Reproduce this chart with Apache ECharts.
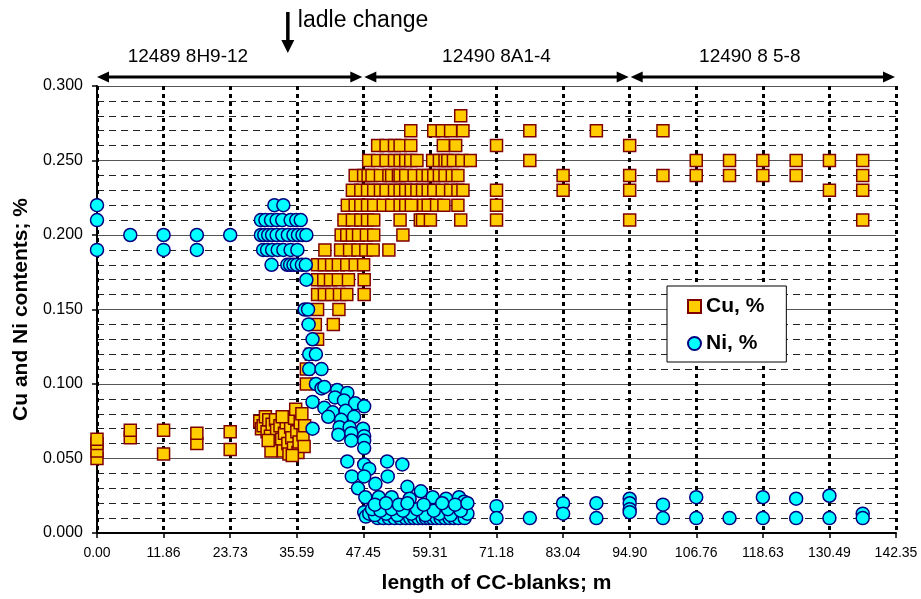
<!DOCTYPE html>
<html>
<head>
<meta charset="utf-8">
<script src="https://cdn.jsdelivr.net/npm/echarts@6/dist/echarts.min.js"></script>
<style>
  html, body { margin: 0; padding: 0; background: #fff; }
  #chart { width: 921px; height: 599px; }
</style>
</head>
<body>
<div id="chart"></div>
<script>
const FONT = '"Liberation Sans", Arial, sans-serif';

// x axis: 12 equal steps of the blank length
const xStep = 11.8625;
const xTickLabels = ["0.00", "11.86", "23.73", "35.59", "47.45", "59.31", "71.18",
  "83.04", "94.90", "106.76", "118.63", "130.49", "142.35"];

// heat sections shown above the plot (start, end in m) and where their names sit
const sectionNames = ["12489 8H9-12", "12490 8A1-4", "12490 8 5-8"];
const sectionBounds = [[0, 47.45], [47.45, 94.9], [94.9, 142.35]];
const sectionLabelAt = [16.2, 71.18, 116.3];
const ladleChangeAt = 34.0;

// Cu, %  [length m, content %]
const cuStart = [
  [0, 0.050], [0, 0.055], [0, 0.060], [0, 0.063],
  [5.93, 0.064], [5.93, 0.069], [11.86, 0.053], [11.86, 0.069],
  [17.79, 0.060], [17.79, 0.067], [23.73, 0.056], [23.73, 0.068],
];
const cuOldLadle = [
  [29.0, 0.075], [29.3, 0.070], [29.6, 0.072], [30.0, 0.078], [30.3, 0.068], [30.6, 0.076],
  [30.9, 0.065], [31.2, 0.073], [31.5, 0.061], [31.8, 0.076], [32.0, 0.069], [32.3, 0.058],
  [32.6, 0.072], [32.9, 0.063], [33.2, 0.055], [33.4, 0.067], [33.7, 0.074], [34.0, 0.060],
  [34.2, 0.053], [34.5, 0.071], [34.7, 0.064], [35.0, 0.057], [35.2, 0.077], [35.4, 0.083],
  [35.6, 0.068], [35.8, 0.054], [36.0, 0.061], [36.2, 0.074], [36.5, 0.080], [36.7, 0.066],
  [36.9, 0.058], [37.0, 0.072], [31.0, 0.055], [33.0, 0.078], [34.8, 0.052], [30.5, 0.062],
];
const cuRise = [
  [37.3, 0.100], [37.3, 0.110], [38.2, 0.120], [39.3, 0.130], [38.9, 0.140], [42.1, 0.140],
  [39.3, 0.150], [43.1, 0.150],
  [39.3, 0.160], [40.5, 0.160], [41.8, 0.160], [43.2, 0.160], [44.5, 0.160], [47.6, 0.160],
  [39.3, 0.170], [40.4, 0.170], [41.6, 0.170], [43.0, 0.170], [44.8, 0.170], [47.6, 0.170],
  [39.3, 0.180], [40.5, 0.180], [41.8, 0.180], [43.0, 0.180], [44.5, 0.180], [46.0, 0.180], [47.5, 0.180],
  [40.6, 0.190], [43.4, 0.190], [45.0, 0.190], [46.5, 0.190], [47.9, 0.190], [49.2, 0.190], [52.0, 0.190],
  [43.5, 0.200], [44.5, 0.200], [45.5, 0.200], [46.6, 0.200], [48.0, 0.200], [49.3, 0.200], [54.5, 0.200],
  [44.0, 0.210], [45.5, 0.210], [47.0, 0.210], [48.2, 0.210], [49.3, 0.210], [54.0, 0.210],
  [57.6, 0.210], [58.0, 0.210], [59.4, 0.210], [64.8, 0.210],
  [44.6, 0.220], [46.0, 0.220], [47.0, 0.220], [48.2, 0.220], [49.3, 0.220], [51.0, 0.220],
  [52.5, 0.220], [54.0, 0.220], [55.0, 0.220], [56.0, 0.220], [58.2, 0.220], [59.0, 0.220],
  [60.5, 0.220], [61.8, 0.220], [64.3, 0.220],
  [45.5, 0.230], [47.0, 0.230], [48.2, 0.230], [49.3, 0.230], [50.5, 0.230], [51.5, 0.230],
  [53.0, 0.230], [54.0, 0.230], [55.0, 0.230], [56.0, 0.230], [57.0, 0.230], [58.0, 0.230],
  [59.0, 0.230], [60.0, 0.230], [61.5, 0.230], [63.0, 0.230], [64.3, 0.230], [65.2, 0.230],
  [46.0, 0.240], [47.5, 0.240], [48.3, 0.240], [49.0, 0.240], [50.5, 0.240], [52.0, 0.240],
  [52.5, 0.240], [53.7, 0.240], [54.0, 0.240], [55.0, 0.240], [56.5, 0.240], [58.0, 0.240],
  [59.0, 0.240], [60.0, 0.240], [61.0, 0.240], [62.0, 0.240], [63.3, 0.240], [64.3, 0.240],
  [48.4, 0.250], [50.0, 0.250], [51.5, 0.250], [53.0, 0.250], [54.0, 0.250], [55.0, 0.250],
  [55.9, 0.250], [57.0, 0.250], [59.8, 0.250], [61.0, 0.250], [62.0, 0.250], [62.5, 0.250],
  [63.5, 0.250], [65.0, 0.250], [66.5, 0.250],
  [50.0, 0.260], [51.5, 0.260], [53.0, 0.260], [54.0, 0.260], [55.9, 0.260], [61.7, 0.260], [63.9, 0.260],
  [55.9, 0.270], [60.0, 0.270], [61.5, 0.270], [63.0, 0.270], [65.2, 0.270],
  [64.8, 0.280],
];
const cuLate = [
  [71.18, 0.26], [71.18, 0.23], [71.18, 0.22], [71.18, 0.21],
  [77.11, 0.27], [77.11, 0.25], [83.04, 0.24], [83.04, 0.23], [88.97, 0.27],
  [94.90, 0.26], [94.90, 0.24], [94.90, 0.23], [94.90, 0.21],
  [100.83, 0.27], [100.83, 0.24], [106.76, 0.25], [106.76, 0.24],
  [112.69, 0.25], [112.69, 0.24], [118.63, 0.25], [118.63, 0.24],
  [124.56, 0.25], [124.56, 0.24], [130.49, 0.25], [130.49, 0.23],
  [136.42, 0.25], [136.42, 0.24], [136.42, 0.23], [136.42, 0.21],
];

// Ni, %
const niStart = [
  [0, 0.22], [0, 0.21], [0, 0.19], [5.93, 0.20], [11.86, 0.20], [11.86, 0.19],
  [17.79, 0.20], [17.79, 0.19], [23.73, 0.20],
];
const niOldLadle = [
  [31.6, 0.22], [33.2, 0.22],
  [29.2, 0.21], [30.0, 0.21], [31.0, 0.21], [32.0, 0.21], [33.0, 0.21], [34.5, 0.21], [35.5, 0.21], [36.3, 0.21],
  [29.2, 0.20], [29.8, 0.20], [30.5, 0.20], [31.2, 0.20], [32.0, 0.20], [33.0, 0.20], [34.0, 0.20],
  [35.0, 0.20], [35.8, 0.20], [36.6, 0.20], [37.3, 0.20],
  [29.6, 0.19], [30.3, 0.19], [31.2, 0.19], [32.2, 0.19], [33.2, 0.19], [34.5, 0.19], [35.7, 0.19],
  [31.1, 0.18], [33.9, 0.18], [34.4, 0.18], [35.0, 0.18], [35.6, 0.18], [36.5, 0.18], [37.2, 0.18],
];
const niDrop = [
  [37.3, 0.170], [37.0, 0.150], [37.6, 0.150], [37.7, 0.140], [38.4, 0.130], [37.8, 0.120],
  [39.0, 0.120], [37.8, 0.110], [40.0, 0.110], [39.0, 0.100], [40.0, 0.097], [40.5, 0.098],
  [42.8, 0.096], [44.6, 0.094], [38.4, 0.088], [42.4, 0.091], [44.0, 0.089], [46.0, 0.087],
  [40.5, 0.084], [42.0, 0.081], [44.3, 0.082], [41.2, 0.078], [43.5, 0.076], [45.8, 0.078],
  [43.2, 0.071], [45.0, 0.071], [47.4, 0.070], [38.4, 0.070], [47.6, 0.085], [43.0, 0.066],
  [45.3, 0.067], [47.6, 0.065], [45.3, 0.062], [47.6, 0.062], [47.6, 0.057], [44.6, 0.048],
  [51.7, 0.048], [54.4, 0.046], [47.6, 0.046], [48.5, 0.043], [45.4, 0.038], [47.6, 0.038],
  [51.8, 0.038], [46.5, 0.030], [49.6, 0.033], [55.3, 0.031], [57.7, 0.028], [47.8, 0.024],
  [50.2, 0.024], [52.5, 0.024], [55.7, 0.023], [59.8, 0.024], [62.2, 0.023], [64.5, 0.024],
  [65.4, 0.021], [47.6, 0.014], [47.9, 0.011],
];
const niLow = [
  [50.0, 0.010], [51.0, 0.010], [52.0, 0.010], [53.0, 0.010], [54.0, 0.010], [55.0, 0.010],
  [55.8, 0.010], [56.5, 0.010], [57.2, 0.010], [58.0, 0.010], [58.6, 0.010], [59.2, 0.010],
  [59.8, 0.010], [60.5, 0.010], [61.2, 0.010], [62.0, 0.010], [62.8, 0.010], [63.6, 0.010],
  [64.4, 0.010], [65.5, 0.010],
  [48.5, 0.013], [49.5, 0.012], [51.5, 0.013], [53.5, 0.012], [56.0, 0.013], [58.5, 0.012],
  [61.0, 0.013], [63.0, 0.012], [66.0, 0.013],
  [49.0, 0.016], [50.5, 0.015], [52.5, 0.016], [54.5, 0.015], [57.0, 0.016], [60.0, 0.015],
  [62.5, 0.016], [64.8, 0.015],
  [49.5, 0.019], [51.5, 0.020], [53.8, 0.019], [55.3, 0.020], [58.2, 0.019], [61.5, 0.020],
  [63.8, 0.019], [66.0, 0.020],
];
const niLate = [
  [71.18, 0.018], [71.18, 0.010], [77.11, 0.010], [83.04, 0.020], [83.04, 0.013],
  [88.97, 0.020], [88.97, 0.010], [94.90, 0.023], [94.90, 0.020], [94.90, 0.016], [94.90, 0.014],
  [100.83, 0.019], [100.83, 0.010], [106.76, 0.024], [106.76, 0.010], [112.69, 0.010],
  [118.63, 0.024], [118.63, 0.010], [124.56, 0.023], [124.56, 0.010],
  [130.49, 0.025], [130.49, 0.010], [136.42, 0.013], [136.42, 0.010],
];

const cuData = [...cuStart, ...cuOldLadle, ...cuRise, ...cuLate];
const niData = [...niStart, ...niOldLadle, ...niDrop, ...niLow, ...niLate];

const chart = echarts.init(document.getElementById("chart"));

chart.setOption({
  animation: false,
  backgroundColor: "#fff",
  textStyle: { fontFamily: FONT },
  grid: { left: 97, right: 25, top: 86, bottom: 66, containLabel: false },
  legend: {
    orient: "vertical",
    left: 667,
    top: 286,
    padding: [10, 22, 8, 20],
    itemGap: 16,
    itemWidth: 13,
    itemHeight: 13,
    backgroundColor: "#fff",
    borderColor: "#000",
    borderWidth: 1,
    textStyle: { fontFamily: FONT, fontSize: 21, fontWeight: "bold", color: "#000", lineHeight: 20 },
    data: [{ name: "Cu, %", icon: "rect" }, { name: "Ni, %", icon: "circle" }],
  },
  xAxis: {
    type: "value",
    min: 0,
    max: 142.35,
    interval: xStep,
    name: "length of CC-blanks; m",
    nameLocation: "middle",
    nameGap: 40,
    nameTextStyle: { fontFamily: FONT, fontSize: 21, fontWeight: "bold", color: "#000" },
    axisLine: { show: true, onZero: false, lineStyle: { color: "#000", width: 2 } },
    axisTick: { show: true, length: 5, lineStyle: { color: "#000", width: 1.5 } },
    axisLabel: {
      margin: 13,
      fontSize: 14,
      color: "#000",
      formatter: (v) => xTickLabels[Math.round(v / xStep)] ?? "",
    },
    splitLine: { show: true, lineStyle: { color: "#000", width: 3, type: [4, 4] } },
  },
  yAxis: {
    type: "value",
    min: 0,
    max: 0.3,
    interval: 0.05,
    name: "Cu and Ni contents; %",
    nameLocation: "middle",
    nameGap: 65,
    nameTextStyle: { fontFamily: FONT, fontSize: 21, fontWeight: "bold", color: "#000" },
    axisLine: { show: true, lineStyle: { color: "#000", width: 2 } },
    axisTick: { show: true, length: 5, lineStyle: { color: "#000", width: 1.5 } },
    axisLabel: { margin: 14, fontSize: 16, color: "#000", formatter: (v) => v.toFixed(3) },
    splitLine: { show: true, lineStyle: { color: "#555", width: 1 } },
    minorTick: { show: false, splitNumber: 5 },
    minorSplitLine: { show: true, lineStyle: { color: "#222", width: 1, type: [7, 5] } },
  },
  series: [
    {
      name: "Cu, %",
      type: "scatter",
      symbol: "rect",
      symbolSize: 12,
      itemStyle: { color: "#ffcc00", borderColor: "#800000", borderWidth: 1.5, opacity: 1 },
      data: cuData,
    },
    {
      name: "Ni, %",
      type: "scatter",
      symbol: "circle",
      symbolSize: 13,
      itemStyle: { color: "#00ffff", borderColor: "#000080", borderWidth: 1.5, opacity: 1 },
      data: niData,
    },
  ],
});

// annotations above the plot: section arrows and the ladle change marker
function hArrow(x1, x2, y) {
  const head = 12, half = 5.5;
  return [
    { type: "line", shape: { x1: x1 + head - 1, y1: y, x2: x2 - head + 1, y2: y },
      style: { stroke: "#000", lineWidth: 3 } },
    { type: "polygon", shape: { points: [[x1, y], [x1 + head, y - half], [x1 + head, y + half]] },
      style: { fill: "#000" } },
    { type: "polygon", shape: { points: [[x2, y], [x2 - head, y - half], [x2 - head, y + half]] },
      style: { fill: "#000" } },
  ];
}

const toPx = (x, y) => chart.convertToPixel({ gridIndex: 0 }, [x, y]);
const topY = toPx(0, 0.3)[1];
const elements = [];
sectionBounds.forEach(([a, b], i) => {
  const xa = toPx(a, 0)[0];
  const xb = toPx(b, 0)[0];
  elements.push(...hArrow(xa + (i === 0 ? 0 : 1), xb - 1, topY - 9));
  elements.push({
    type: "text",
    style: {
      text: sectionNames[i], x: toPx(sectionLabelAt[i], 0)[0], y: topY - 29,
      font: "19px " + FONT, fill: "#000",
      align: "center", textAlign: "center", verticalAlign: "middle", textVerticalAlign: "middle",
    },
  });
});

const lx = toPx(ladleChangeAt, 0)[0];
elements.push(
  { type: "line", shape: { x1: lx, y1: 12, x2: lx, y2: 42 }, style: { stroke: "#000", lineWidth: 3.5 } },
  { type: "polygon", shape: { points: [[lx - 6.5, 40], [lx + 6.5, 40], [lx, 53]] }, style: { fill: "#000" } },
  {
    type: "text",
    style: {
      text: "ladle change", x: lx + 10, y: 21,
      font: "23px " + FONT, fill: "#000",
      align: "left", textAlign: "left", verticalAlign: "middle", textVerticalAlign: "middle",
    },
  }
);

chart.setOption({ graphic: { elements } });
</script>
</body>
</html>
